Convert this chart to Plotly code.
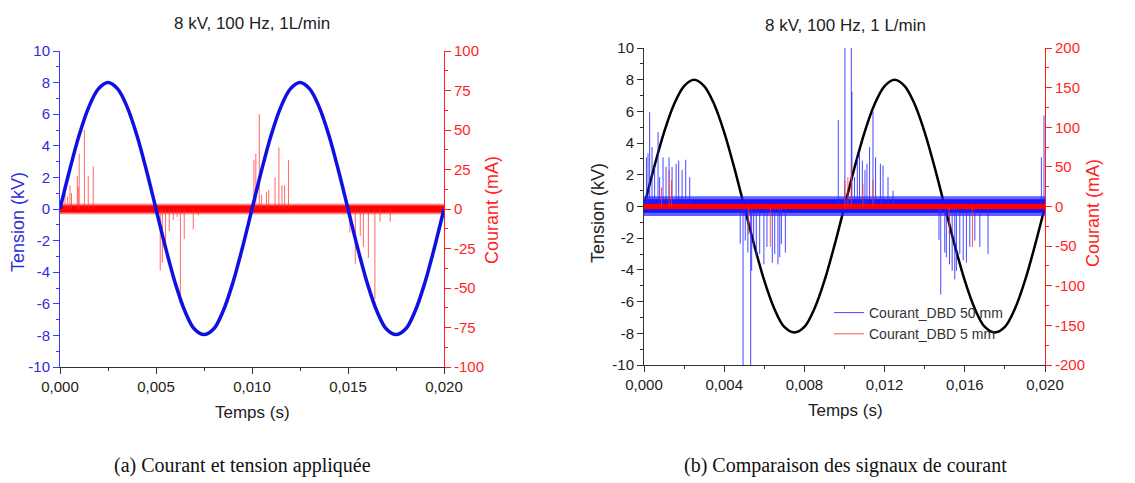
import plotly.graph_objects as go

W, H = 1135, 483

# ---------------- data ----------------
# applied voltage (kV), sampled every 0.5 ms
t_volt = [0.0, 0.0005, 0.001, 0.0015, 0.002, 0.0025, 0.003, 0.0035, 0.004, 0.0045,
          0.005, 0.0055, 0.006, 0.0065, 0.007, 0.0075, 0.008, 0.0085, 0.009, 0.0095,
          0.010, 0.0105, 0.011, 0.0115, 0.012, 0.0125, 0.013, 0.0135, 0.014, 0.0145,
          0.015, 0.0155, 0.016, 0.0165, 0.017, 0.0175, 0.018, 0.0185, 0.019, 0.0195, 0.020]
v_kv = [0.0, 2.45, 4.68, 6.45, 7.6, 8.0, 7.6, 6.45, 4.68, 2.45,
        0.0, -2.45, -4.68, -6.45, -7.6, -7.95, -7.6, -6.45, -4.68, -2.45,
        0.0, 2.45, 4.68, 6.45, 7.6, 8.0, 7.6, 6.45, 4.68, 2.45,
        0.0, -2.45, -4.68, -6.45, -7.6, -7.95, -7.6, -6.45, -4.68, -2.45, 0.0]

# (a) current spikes (mA)
a_spike_t = [0.00026, 0.0004, 0.00052, 0.0006, 0.0009, 0.00095, 0.0010, 0.00127, 0.00147, 0.00173,
             0.00522, 0.00533, 0.0055, 0.00569, 0.0059, 0.0061, 0.00627, 0.00647, 0.00694, 0.0072,
             0.0101, 0.0102, 0.01038, 0.0105, 0.01075, 0.01087, 0.0112, 0.0114, 0.01156, 0.0117, 0.0119,
             0.0151, 0.01538, 0.01564, 0.0158, 0.01606, 0.0164, 0.01667, 0.0172]
a_spike_ma = [10, 8, 15, 10, 21, 14, 35, 50, 21, 27,
              -39, -34, -24, -14, -7, -5, -60, -19, -13, -4,
              31, 35, 60, 9, 11, 12, 20, 39, 15, 15, 31,
              -15, -35, -17, -24, -31, -57, -8, -8]
a_band_t = [0.0, 0.020]
a_band_hi = [2.2, 2.2]
a_band_lo = [-2.2, -2.2]
a_fuzz_hi = [3.4, 3.4]
a_fuzz_lo = [-3.4, -3.4]

# (b) Courant_DBD 50 mm spikes (mA)
b50_t = [0.00012, 0.0002, 0.00028, 0.0004, 0.00053, 0.0007, 0.00078, 0.00095, 0.0011, 0.00125,
         0.0014, 0.0016, 0.00173, 0.0019, 0.00208, 0.00228,
         0.0048, 0.00494, 0.00505, 0.00518, 0.00532, 0.00537, 0.00547, 0.0056, 0.00577, 0.00598,
         0.00613, 0.0064, 0.00652, 0.00668, 0.00677, 0.00685, 0.00705,
         0.00969, 0.01002, 0.01034, 0.01037, 0.0105, 0.01064, 0.01075, 0.01089, 0.01102, 0.01112,
         0.01125, 0.01142, 0.01155, 0.01179, 0.01192, 0.01217, 0.01242,
         0.01471, 0.0148, 0.0150, 0.01508, 0.01524, 0.01537, 0.0155, 0.01558, 0.01575, 0.01592,
         0.01608, 0.01625, 0.0165, 0.01675, 0.01716,
         0.01982, 0.01995]
b50_ma = [62, 67, 119, 75, 50, 94, 37, 62, 50, 62,
          50, 54, 58, 46, 59, 37,
          -47, -200, -43, -58, -200, -81, -51, -64, -60, -73,
          -51, -71, -60, -73, -64, -47, -58,
          109, 200, 200, 145, 37, 62, 67, 58, 46, 54,
          75, 120, 62, 54, 52, 37, 20,
          -42, -111, -58, -64, -73, -81, -92, -81, -60, -68,
          -71, -51, -43, -51, -60,
          62, 115]
b50_band_t = [0.0, 0.020]
b50_band_hi = [9, 9]
b50_band_lo = [-8, -8]
b50_fuzz_hi = [13, 13]
b50_fuzz_lo = [-12, -12]

# (b) Courant_DBD 5 mm spikes (mA)
b5_t = [0.00087, 0.00125, 0.00137, 0.00522, 0.0063, 0.01002, 0.01017, 0.01034, 0.01092, 0.01142,
        0.01522, 0.01638]
b5_ma = [24, 46, 33, -35, -51, 33, 37, 54, 29, 33, -35, -51]
b5_band_t = [0.0, 0.020]
b5_band_hi = [3.5, 3.5]
b5_band_lo = [-3.5, -3.5]

titles = ["8 kV, 100 Hz, 1L/min", "8 kV, 100 Hz, 1 L/min"]
captions = ["(a) Courant et tension appliquée", "(b) Comparaison des signaux de courant"]
legend_names = ["Courant_DBD 50 mm", "Courant_DBD 5 mm"]

xa_ticks = [0.0, 0.005, 0.010, 0.015, 0.020]
xb_ticks = [0.0, 0.004, 0.008, 0.012, 0.016, 0.020]
kv_ticks = [-10, -8, -6, -4, -2, 0, 2, 4, 6, 8, 10]
ma_ticks_a = [-100, -75, -50, -25, 0, 25, 50, 75, 100]
ma_ticks_b = [-200, -150, -100, -50, 0, 50, 100, 150, 200]


def lbl(v):
    return str(v)


def xlbl(v):
    return ("%.3f" % v).replace(".", ",")


def spikes(ts, amps):
    xs, ys = [], []
    for t, a in zip(ts, amps):
        xs += [t, t, None]
        ys += [0, a, None]
    return xs, ys


def band(ts, hi, lo):
    return ts + ts[::-1], hi + lo[::-1]


FONT = "Liberation Sans, Arial, sans-serif"
SERIF = "Liberation Serif, Times New Roman, serif"
BLUE_TXT = "#2e2ed6"
BLUE_LINE = "#3c3cff"
RED = "#ff1f1f"

fig = go.Figure()

# ---- (a) ----
bx, by = band(a_band_t, a_fuzz_hi, a_fuzz_lo)
fig.add_trace(go.Scatter(x=bx, y=by, fill="toself", fillcolor="rgba(255,0,0,0.5)", line=dict(width=0),
                         mode="lines", xaxis="x", yaxis="y", showlegend=False, hoverinfo="skip"))
bx, by = band(a_band_t, a_band_hi, a_band_lo)
fig.add_trace(go.Scatter(x=bx, y=by, fill="toself", fillcolor="rgba(255,0,0,1)", line=dict(width=0),
                         mode="lines", xaxis="x", yaxis="y", showlegend=False, hoverinfo="skip"))
sx, sy = spikes(a_spike_t, a_spike_ma)
fig.add_trace(go.Scatter(x=sx, y=sy, mode="lines", line=dict(color="rgba(255,40,40,0.7)", width=1),
                         xaxis="x", yaxis="y", showlegend=False))
fig.add_trace(go.Scatter(x=t_volt, y=v_kv, mode="lines", line=dict(color="#1010e0", width=3.5, shape="spline"),
                         xaxis="x", yaxis="y2", showlegend=False))

# ---- (b) ----
fig.add_trace(go.Scatter(x=t_volt, y=v_kv, mode="lines", line=dict(color="black", width=2.5, shape="spline"),
                         xaxis="x2", yaxis="y3", showlegend=False))
bx, by = band(b50_band_t, b50_fuzz_hi, b50_fuzz_lo)
fig.add_trace(go.Scatter(x=bx, y=by, fill="toself", fillcolor="rgba(30,30,255,0.7)", line=dict(width=0),
                         mode="lines", xaxis="x2", yaxis="y4", showlegend=False, hoverinfo="skip"))
bx, by = band(b50_band_t, b50_band_hi, b50_band_lo)
fig.add_trace(go.Scatter(x=bx, y=by, fill="toself", fillcolor="rgba(20,20,255,1)", line=dict(width=0),
                         mode="lines", xaxis="x2", yaxis="y4", showlegend=False, hoverinfo="skip"))
sx, sy = spikes(b50_t, b50_ma)
fig.add_trace(go.Scatter(x=sx, y=sy, mode="lines", line=dict(color="rgba(40,40,255,0.85)", width=1),
                         xaxis="x2", yaxis="y4", name=legend_names[0], showlegend=True))
bx, by = band(b5_band_t, b5_band_hi, b5_band_lo)
fig.add_trace(go.Scatter(x=bx, y=by, fill="toself", fillcolor="rgba(255,0,0,1)", line=dict(width=0),
                         mode="lines", xaxis="x2", yaxis="y4", showlegend=False, hoverinfo="skip"))
sx, sy = spikes(b5_t, b5_ma)
fig.add_trace(go.Scatter(x=sx, y=sy, mode="lines", line=dict(color="rgba(255,40,40,0.8)", width=1),
                         xaxis="x2", yaxis="y4", name=legend_names[1], showlegend=True))

dom_ax = [60 / W, 444 / W]
dom_ay = [1 - 367 / H, 1 - 51 / H]
dom_bx = [644 / W, 1045 / W]
dom_by = [1 - 365 / H, 1 - 48 / H]

tickfont = dict(family=FONT, size=15, color="#222")


def xaxis(domain, anchor, ticks, minor_dt):
    return dict(domain=domain, anchor=anchor, range=[0, 0.020], tickvals=ticks, automargin=False,
                ticktext=[xlbl(v) for v in ticks], ticks="outside", ticklen=6, tickwidth=1,
                tickcolor="#333", showline=True, linecolor="#333", linewidth=1, showgrid=False,
                zeroline=False, tickfont=tickfont,
                minor=dict(ticks="outside", ticklen=3, tick0=0, dtick=minor_dt, tickcolor="#333"))


def topaxis(overlay, anchor, ticks, minor_dt):
    return dict(overlaying=overlay, anchor=anchor, side="top", range=[0, 0.020], tickvals=ticks,
                showticklabels=False, ticks="inside", ticklen=6, tickcolor="#333", showline=True,
                linecolor="#333", linewidth=1, showgrid=False, zeroline=False, automargin=False,
                minor=dict(ticks="inside", ticklen=3, tick0=0, dtick=minor_dt, tickcolor="#333"))


def yaxis(rng, ticks, side, color_txt, color_line, minor_dt, **kw):
    d = dict(range=rng, tickvals=ticks, ticktext=[lbl(v) for v in ticks], side=side, automargin=False,
             ticks="outside", ticklen=6, tickcolor=color_line, showline=True, linecolor=color_line,
             linewidth=1, showgrid=False, zeroline=False,
             tickfont=dict(family=FONT, size=15, color=color_txt),
             minor=dict(ticks="outside", ticklen=3, tick0=0, dtick=minor_dt, tickcolor=color_line))
    d.update(kw)
    return d


fig.update_layout(
    template="none",
    width=W, height=H, margin=dict(l=0, r=0, t=0, b=0, autoexpand=False),
    paper_bgcolor="white", plot_bgcolor="white",
    font=dict(family=FONT, size=14, color="#222"),
    xaxis=xaxis(dom_ax, "y", xa_ticks, 0.0025),
    xaxis3=topaxis("x", "y", xa_ticks, 0.0025),
    yaxis=yaxis([-100, 100], ma_ticks_a, "right", RED, RED, 12.5, anchor="x", domain=dom_ay),
    yaxis2=yaxis([-10, 10], kv_ticks, "left", BLUE_TXT, BLUE_LINE, 1, anchor="x", overlaying="y"),
    xaxis2=xaxis(dom_bx, "y3", xb_ticks, 0.002),
    xaxis4=topaxis("x2", "y3", xb_ticks, 0.002),
    yaxis3=yaxis([-10, 10], kv_ticks, "left", "#222", "#333", 1, anchor="x2", domain=dom_by),
    yaxis4=yaxis([-200, 200], ma_ticks_b, "right", RED, RED, 25, anchor="x2", overlaying="y3"),
    legend=dict(x=829 / W, y=1 - 297 / H, xanchor="left", yanchor="top", bgcolor="rgba(0,0,0,0)",
                font=dict(family=FONT, size=14, color="#333"), tracegroupgap=0, itemwidth=30),
)

ann = []


def txt(x, y, s, size=15, color="#222", angle=0, family=FONT):
    ann.append(dict(x=x / W, y=1 - y / H, xref="paper", yref="paper", text=s, showarrow=False,
                    font=dict(family=family, size=size, color=color), textangle=angle,
                    xanchor="center", yanchor="middle"))


txt(252, 23, titles[0], 17)
txt(845, 25, titles[1], 17)
txt(252, 412, "Temps (s)", 17)
txt(845, 410, "Temps (s)", 17)
txt(18, 222, "Tension (kV)", 18, BLUE_TXT, -90)
txt(492, 210, "Courant (mA)", 18, RED, -90)
txt(598, 213, "Tension (kV)", 18, "#222", -90)
txt(1093, 213, "Courant (mA)", 18, RED, -90)
txt(243, 465, captions[0], 20, "#111", 0, SERIF)
txt(845, 465, captions[1], 20, "#111", 0, SERIF)
fig.update_layout(annotations=ann)

fig.write_html("out.html", config={"displayModeBar": False},
               post_script="document.body.style.margin='0';document.body.style.overflow='hidden';")
